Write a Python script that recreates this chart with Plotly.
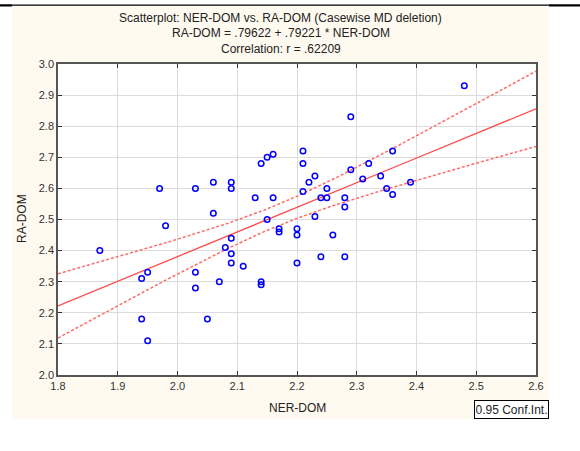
import numpy as np
import plotly.graph_objects as go

# ---- data ----
ner_dom = [1.87, 1.94, 1.95, 1.94, 1.95, 1.97, 1.98, 2.03, 2.03, 2.03,
           2.05, 2.06, 2.06, 2.07, 2.08, 2.09, 2.09, 2.09, 2.09, 2.09,
           2.11, 2.13, 2.14, 2.14, 2.14, 2.15, 2.15, 2.16, 2.16, 2.17,
           2.17, 2.20, 2.20, 2.20, 2.21, 2.21, 2.21, 2.22, 2.23, 2.23,
           2.24, 2.24, 2.25, 2.25, 2.26, 2.28, 2.28, 2.28, 2.29, 2.29,
           2.31, 2.32, 2.34, 2.35, 2.36, 2.36, 2.39, 2.48]
ra_dom = [2.40, 2.31, 2.33, 2.18, 2.11, 2.60, 2.48, 2.60, 2.33, 2.28,
          2.18, 2.62, 2.52, 2.30, 2.41, 2.62, 2.60, 2.44, 2.39, 2.36,
          2.35, 2.57, 2.68, 2.30, 2.29, 2.70, 2.50, 2.71, 2.57, 2.47,
          2.46, 2.47, 2.45, 2.36, 2.72, 2.68, 2.59, 2.62, 2.64, 2.51,
          2.57, 2.38, 2.60, 2.57, 2.45, 2.57, 2.54, 2.38, 2.83, 2.66,
          2.63, 2.68, 2.64, 2.60, 2.72, 2.58, 2.62, 2.93]
intercept = 0.79622
slope = 0.79221
x_range = [1.8, 2.6]
y_range = [2.0, 3.0]
title_lines = ["Scatterplot: NER-DOM vs. RA-DOM (Casewise MD deletion)",
               "RA-DOM = .79622 + .79221 * NER-DOM",
               "Correlation: r = .62209"]
ci_label = "0.95 Conf.Int."

# ---- regression line and 95% confidence band ----
x = np.array(ner_dom)
y = np.array(ra_dom)
n = len(x)
xs = np.linspace(x_range[0], x_range[1], 161)
fit = intercept + slope * xs
resid = y - (intercept + slope * x)
s = np.sqrt(np.sum(resid ** 2) / (n - 2))
sxx = np.sum((x - x.mean()) ** 2)
t = 2.003
half = t * s * np.sqrt(1.0 / n + (xs - x.mean()) ** 2 / sxx)

fig = go.Figure()
fig.add_trace(go.Scatter(x=xs, y=fit + half, mode="lines",
                         line=dict(color="#FF6A6A", width=1.5, dash="3px,2px"),
                         hoverinfo="skip", showlegend=False))
fig.add_trace(go.Scatter(x=xs, y=fit - half, mode="lines",
                         line=dict(color="#FF6A6A", width=1.5, dash="3px,2px"),
                         hoverinfo="skip", showlegend=False))
fig.add_trace(go.Scatter(x=xs, y=fit, mode="lines",
                         line=dict(color="#FF4848", width=1.3),
                         hoverinfo="skip", showlegend=False))
fig.add_trace(go.Scatter(x=ner_dom, y=ra_dom, mode="markers",
                         marker=dict(symbol="circle-open", size=5.5,
                                     color="#0000FF", line=dict(width=1.5, color="#0000FF")),
                         showlegend=False))

# plot area in pixels: x 58..536, y 64..375
L, R, T, B = 58, 536, 64, 375
W, H = R - L, B - T
def px(v):
    return (v - L) / W
def py(v):
    return (B - v) / H

def prect(x0, x1, y0, y1, color):
    return dict(type="rect", xref="paper", yref="paper", x0=px(x0), x1=px(x1),
                y0=py(y1), y1=py(y0), fillcolor=color, line=dict(width=0), layer="below")

shapes = [
    prect(12, 549, 6, 419, "#FFFAF0"),
    dict(type="rect", xref="paper", yref="paper", x0=0, x1=1, y0=0, y1=1,
         fillcolor="white", line=dict(width=0), layer="below"),
    prect(0, 580, 4.5, 5.8, "#000000"),
    prect(0, 12, 4.5, 6.5, "#000000"),
    prect(549, 580, 4.5, 6.5, "#000000"),
]

font = dict(family="Liberation Sans, Arial", size=12, color="#222")
annotations = []
for line_txt, yy in zip(title_lines, [18, 33.5, 49]):
    annotations.append(dict(text=line_txt, xref="paper", yref="paper", x=px(280.5), y=py(yy),
                            xanchor="center", yanchor="middle", showarrow=False, font=font))
annotations.append(dict(text=ci_label, xref="paper", yref="paper", x=px(474), y=py(400),
                        xanchor="left", yanchor="top", showarrow=False,
                        bordercolor="black", borderwidth=1, borderpad=1, bgcolor="white",
                        width=71, height=15, font=font))
annotations.append(dict(text="NER-DOM", xref="paper", yref="paper", x=px(297), y=py(408),
                        xanchor="center", yanchor="middle", showarrow=False, font=font))
annotations.append(dict(text="RA-DOM", xref="paper", yref="paper", x=px(22), y=py(219),
                        xanchor="center", yanchor="middle", showarrow=False, textangle=-90,
                        font=font))

axis_common = dict(showgrid=True, gridcolor="#DCDCDC", gridwidth=1, zeroline=False,
                   showline=True, linecolor="#555555", linewidth=1.5, mirror="ticks",
                   ticks="inside", ticklen=4, tickcolor="#333333", tickwidth=1,
                   tickformat=".1f", dtick=0.1,
                   tickfont=dict(family="Liberation Sans, Arial", size=11, color="#333"))

fig.update_layout(
    width=580, height=451,
    margin=dict(l=L, r=580 - R, t=T, b=451 - B, pad=0),
    paper_bgcolor="white", plot_bgcolor="white",
    xaxis=dict(range=x_range, tick0=1.8, **axis_common),
    yaxis=dict(range=y_range, tick0=2.0, **axis_common),
    shapes=shapes, annotations=annotations,
    showlegend=False,
)
fig.write_html("out.html", config={"displayModeBar": False},
               post_script="document.body.style.margin='0px';")
